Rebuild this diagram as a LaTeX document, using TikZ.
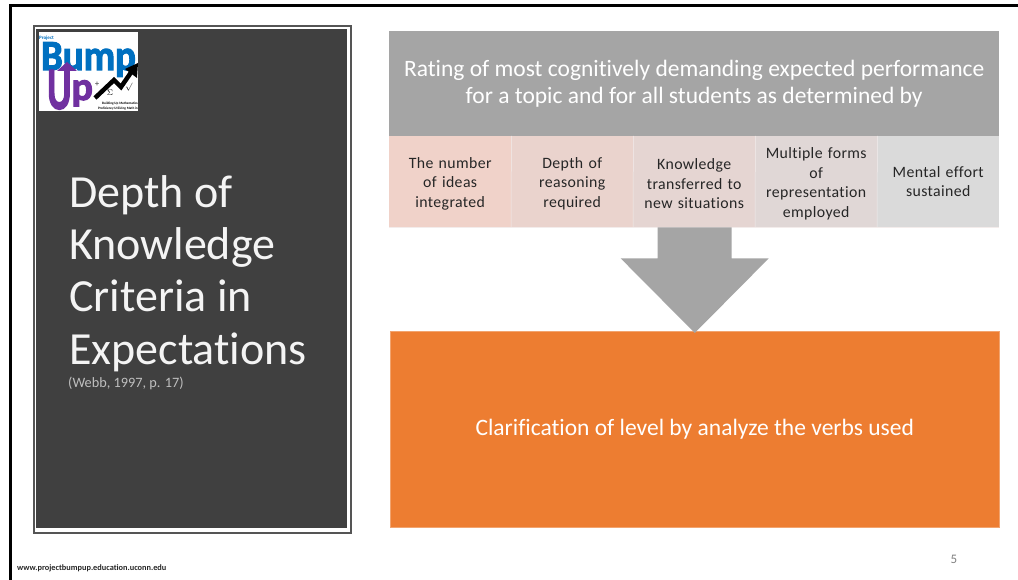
\documentclass[tikz,border=0pt]{standalone}
\usepackage{fontspec}
\usepackage{graphicx}
\setmainfont[Ligatures=NoCommon]{Carlito}
\usetikzlibrary{calc}
\definecolor{panel}{HTML}{404040}
\definecolor{panelrim}{HTML}{555555}
\definecolor{hdr}{HTML}{A5A5A5}
\definecolor{orng}{HTML}{ED7D31}
\definecolor{cA}{HTML}{F0D2C9}
\definecolor{cB}{HTML}{EAD3CD}
\definecolor{cC}{HTML}{E5D5D2}
\definecolor{cD}{HTML}{E0D7D6}
\definecolor{cE}{HTML}{DADADA}
\definecolor{lblue}{HTML}{0070C0}
\definecolor{lpurp}{HTML}{7030A0}
\newcommand{\lowertext}{\rule{0pt}{15pt}}
\tikzset{
  cellbox/.style={minimum width=122pt,minimum height=91pt,inner sep=0pt,align=center,text width=120pt,
    font=\fontsize{15.8}{19.5}\selectfont\addfontfeature{LetterSpace=2.5},text=black!85,anchor=north west},
  titletext/.style={text=white!94!panel,anchor=base west,inner sep=0pt,font=\fontsize{46}{52}\selectfont},
  whitetext/.style={text=white,align=center,font=\fontsize{23.5}{27}\selectfont},
  tinytext/.style={inner sep=0pt,text=black},
}
\begin{document}
\begin{tikzpicture}[x=1pt,y=-1pt]
\useasboundingbox (0,0) rectangle (1018,580);
\fill[white] (0,0) rectangle (1018,580);
% slide frame
\fill[black] (9,4) rectangle (1018,7);
\fill[black] (9,4) rectangle (12,580);
% left panel
\node[name=panelout,draw=panelrim,line width=2pt,fill=white,minimum width=317pt,minimum height=507pt,anchor=north west,inner sep=0pt] at (33,25) {};
\node[name=panelin,fill=panel,minimum width=311pt,minimum height=499.5pt,anchor=north west,inner sep=0pt] at (36,28.5) {};
% logo
\node[name=logo,fill=white,minimum width=99pt,minimum height=79pt,anchor=north west,inner sep=0pt] at (39,32) {};
\node[name=lbump,text=lblue,inner sep=0pt,anchor=base west,font=\fontsize{43}{43}\selectfont\bfseries\addfontfeature{FakeBold=2.5}] at (41,70) {\scalebox{.9}[1]{Bump}};
\node[name=lproject,text=lblue,inner sep=0pt,font=\fontsize{5}{5}\selectfont\bfseries] at (46.5,38) {Project};
\node[name=lup,text=lpurp,inner sep=0pt,anchor=base west,font=\fontsize{60}{60}\selectfont\bfseries\addfontfeature{FakeBold=2.5}] at (47,109) {\scalebox{.62}[1]{U}\raisebox{9pt}{\fontsize{40}{40}\selectfont\addfontfeature{FakeBold=2.5} p}};
\fill[lpurp] (57,71) -- (67,62) -- (77,71) -- cycle;
\draw[black,line width=4.5pt] (95,98) -- (114,80) -- (121,87) -- (132,71);
\fill[black] (125,69) -- (138,63) -- (137,78) -- cycle;
\node[name=lsyma,tinytext,font=\fontsize{8}{8}\selectfont] at (97,84) {÷};
\node[name=lsymb,tinytext,font=\fontsize{8}{8}\selectfont] at (110,93) {$\Sigma$};
\node[name=lsymc,tinytext,font=\fontsize{8}{8}\selectfont] at (129,87) {$\surd$};
\node[name=lsmall,tinytext,align=right,anchor=south east,font=\fontsize{3.4}{5.2}\selectfont\bfseries] at (138,110.5) {Building Up Mathematics\\Proficiency Utilizing Math in};
% title
\node[name=tone,titletext] at (69,208) {Depth of};
\node[name=ttwo,titletext] at (69,260) {Knowledge};
\node[name=tthree,titletext] at (69,312) {Criteria in};
\node[name=tfour,titletext] at (69,364) {Expectations};
\node[name=webb,anchor=base west,inner sep=0pt,text=black!25,font=\fontsize{14.3}{16}\selectfont] at (68,387) {(Webb, 1997, p. 17)};
% header
\node[name=head,fill=hdr,minimum width=610pt,minimum height=105pt,anchor=north west,inner sep=0pt,whitetext] at (389,31) {Rating of most cognitively demanding expected performance\\for a topic and for all students as determined by};
% cells
\node[name=cellA,cellbox,fill=cA] at (389,136) {\lowertext The number\\of ideas\\integrated};
\node[name=cellB,cellbox,fill=cB] at (511,136) {\lowertext Depth of\\reasoning\\required};
\node[name=cellC,cellbox,fill=cC] at (633,136) {\lowertext Knowledge\\transferred to\\new situations};
\node[name=cellD,cellbox,fill=cD] at (755,136) {\lowertext Multiple forms\\of\\representation\\employed};
\node[name=cellE,cellbox,fill=cE] at (877,136) {Mental effort\\sustained};
\foreach \a/\b in {cellA/cellB,cellB/cellC,cellC/cellD,cellD/cellE}
  \draw[white!55!cC,line width=.5pt] (\a.north east) -- (\b.south west);
\draw[white!55!cC,line width=.8pt] (cellA.south west) -- (cellE.south east);
% orange box
\node[name=result,fill=orng,draw=orng!70!white,line width=.5pt,minimum width=609pt,minimum height=196pt,anchor=north west,inner sep=0pt,whitetext] at (390,331) {Clarification of level by analyze the verbs used};
% block arrow
\fill[hdr] ($(cellC.south)+(-36.5,0)$) -- ($(cellC.south)+(37.5,0)$) -- ($(cellC.south)+(37.5,31)$) -- ($(cellC.south)+(74.5,31)$) -- ($(result.north)+(0,2)$) -- ($(cellC.south)+(-73.5,31)$) -- ($(cellC.south)+(-36.5,31)$) -- cycle;
% footer
\node[name=url,anchor=base west,inner sep=0pt,text=black!85,font=\fontsize{8.3}{9}\selectfont\bfseries] at (17,570.5) {www.projectbumpup.education.uconn.edu};
\node[name=pagenum,inner sep=0pt,text=black!50,font=\fontsize{13}{14}\selectfont] at (954,559) {5};
\end{tikzpicture}
\end{document}
